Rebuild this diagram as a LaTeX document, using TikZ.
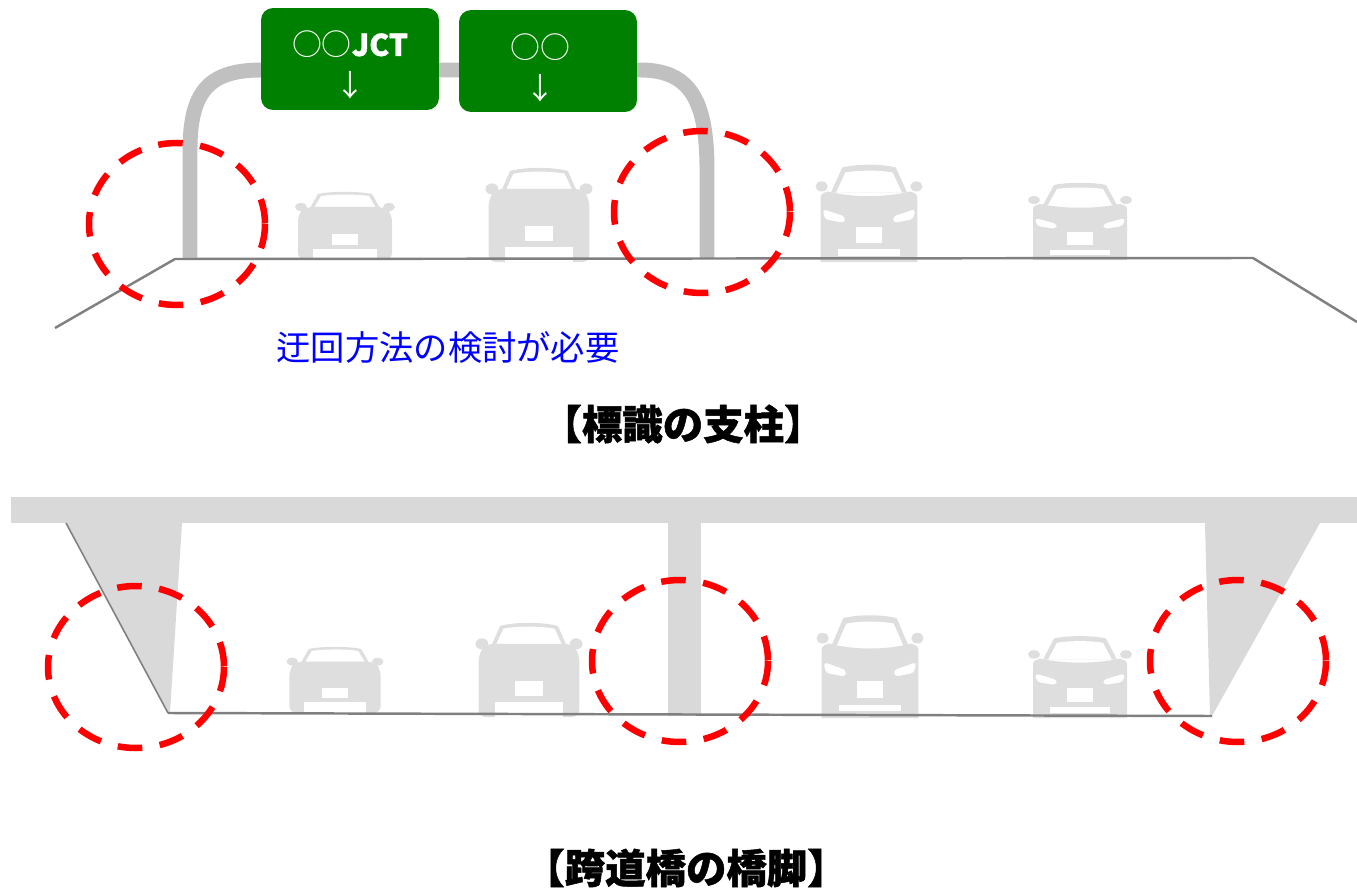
\documentclass[tikz,border=0pt]{standalone}
\usepackage{fontspec}
\newfontfamily\jp{Noto Sans CJK JP}[BoldFeatures={FakeBold=1.2}]

\definecolor{signgreen}{RGB}{0,128,0}
\definecolor{deckgray}{RGB}{217,217,217}
\definecolor{cargray}{RGB}{222,222,222}
\definecolor{polegray}{RGB}{192,192,192}
\definecolor{noteblue}{RGB}{0,0,255}

\begin{document}
\begin{tikzpicture}[x=0.02cm, y=-0.02cm,
    road/.style={draw=gray, line width=1.4pt},
    gantry/.style={draw=polegray, line width=8.5pt},
    sign/.style={fill=signgreen, rounded corners=0.24cm, minimum width=3.56cm, minimum height=2.04cm},
    signtext/.style={text=white, align=center, font=\jp\fontsize{17}{23}\selectfont},
    check/.style={draw=red, line width=3.7pt, dash pattern=on 14pt off 10pt},
    deck/.style={fill=deckgray},
    note/.style={text=noteblue, font=\jp\fontsize{19.5}{23}\selectfont},
    title/.style={font=\jp\bfseries\fontsize{23}{27}\selectfont},
    % car seen from behind
    carback/.pic={
        \fill[cargray] (-35,-52) -- (-27,-66) .. controls (-12,-69) and (12,-69) .. (27,-66) -- (35,-52) -- cycle;
        \fill[white] (-31,-52) -- (-24,-64) .. controls (-10,-66) and (10,-66) .. (24,-64) -- (31,-52) -- cycle;
        \fill[cargray, rounded corners=4pt] (-47,0) -- (-47,-46) -- (-40,-53) -- (40,-53) -- (47,-46) -- (47,0) -- cycle;
        \fill[cargray] (-44,-53) ellipse (6 and 4);
        \fill[cargray] (44,-53) ellipse (6 and 4);
        \fill[white] (-32,0) rectangle (32,-11);
        \fill[white] (-13,-15) rectangle (13,-26);
    },
    % car seen from the front
    carfront/.pic={
        \fill[cargray] (-37,-55) -- (-26,-75) .. controls (-12,-78) and (12,-78) .. (26,-75) -- (37,-55) -- cycle;
        \fill[white] (-32,-55) -- (-23,-71) .. controls (-10,-73) and (10,-73) .. (23,-71) -- (32,-55) -- cycle;
        \fill[cargray] (-47,0) -- (-47,-48) .. controls (-47,-54) .. (-40,-56) .. controls (-15,-51) and (15,-51) .. (40,-56) .. controls (47,-54) .. (47,-48) -- (47,0) -- cycle;
        \fill[cargray] (-46,-60) ellipse (6 and 4);
        \fill[cargray] (46,-60) ellipse (6 and 4);
        \fill[white, rounded corners=2pt] (-45,-42) -- (-23,-36) -- (-24,-31) -- (-43,-34) -- cycle;
        \fill[white, rounded corners=2pt] (45,-42) -- (23,-36) -- (24,-31) -- (43,-34) -- cycle;
        \fill[white] (-13,-15) rectangle (13,-28);
        \fill[white] (-30,-5) rectangle (30,-10);
    }
]
\useasboundingbox (0,0) rectangle (1357,892);

% ---- sign gantry ----
\draw[gantry] (190,258) -- (190,150) .. controls (190,90) and (210,70) .. (262,70)
    -- (640,70) .. controls (690,70) and (707,100) .. (707,170) -- (707,258);

\node[sign] (jct) at (350,59) {};
\node[sign] (exit) at (548,61) {};
\node[signtext] (jcttext) at ([yshift=-0.12cm]jct.center) {○○{\bfseries JCT}\\↓};
\node[signtext] (exittext) at ([xshift=-0.16cm, yshift=-0.14cm]exit.center) {○○\\↓};

% cars under the gantry
\pic at (345,260) {carback};
\pic[xscale=1.07, yscale=1.38] at (539,262) {carback};
\pic[xscale=1.03, yscale=1.26] at (869,262) {carfront};
\pic at (1080,260) {carfront};

% road surface
\draw[road] (55,328) -- (175,259) -- (1253,258) -- (1357,322);

% poles to check
\draw[check] (177,224) ellipse (88 and 81);
\draw[check] (702,212) ellipse (88 and 81);

\node[note] (detour) at (448,347) {迂回方法の検討が必要};
\node[title] (signcap) at (683,424) {【標識の支柱】};

% ---- overpass ----
\fill[deck] (11,497) rectangle (1357,523);
\fill[deck] (66,523) -- (182,523) -- (170,713) -- (168,713) -- cycle;
\fill[deck] (668,523) rectangle (701,716);
\fill[deck] (1205,523) -- (1320,523) -- (1212,716) -- (1210,716) -- cycle;
\draw[gray, line width=0.9pt] (66,523) -- (168,713);

% cars under the bridge
\pic[scale=0.97] at (335,713) {carback};
\pic[xscale=1.07, yscale=1.38] at (529,717) {carback};
\pic[xscale=1.03, yscale=1.33] at (870,718) {carfront};
\pic[yscale=1.06] at (1080,718) {carfront};

\draw[road] (168,713) -- (1212,716);

% piers to check
\draw[check] (136,667) ellipse (88 and 81);
\draw[check] (680,661) ellipse (88 and 81);
\draw[check] (1238,661) ellipse (88 and 81);

\node[title] (piercap) at (686,868) {【跨道橋の橋脚】};

\end{tikzpicture}
\end{document}
